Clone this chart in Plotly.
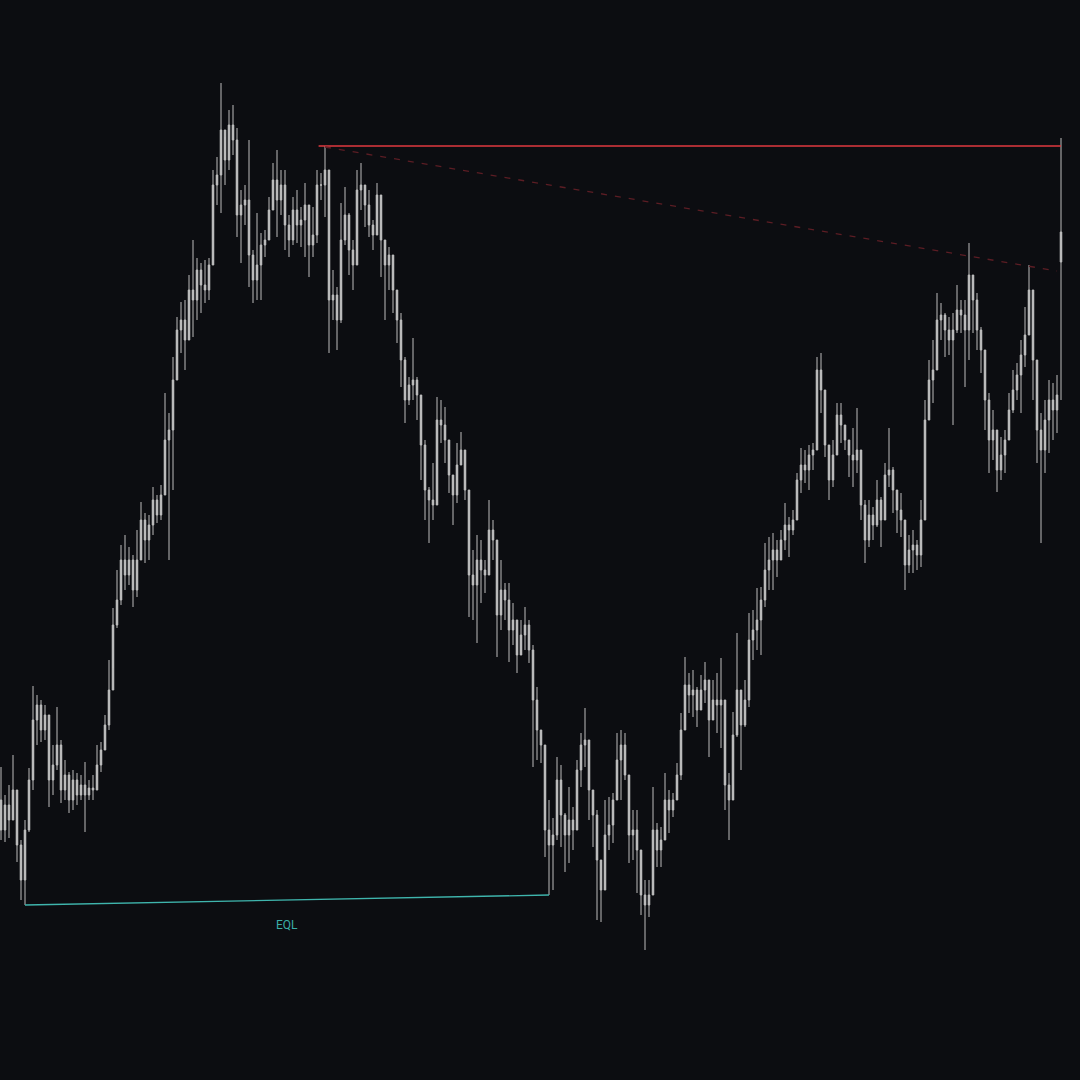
import plotly.graph_objects as go

# Price readings (chart level units; larger value = lower on chart, axis is reversed)
first_open = 800
close = [830, 805, 820, 790, 845, 880, 830, 780, 720, 705, 730, 715, 780, 765, 745, 790, 775, 800, 780, 795,
         785, 795, 788, 790, 765, 750, 725, 690, 625, 600, 560, 575, 560, 590, 560, 520, 540, 525, 500, 515,
         495, 440, 430, 380, 330, 320, 340, 290, 300, 270, 285, 290, 265, 185, 175, 130, 160, 125, 140, 215,
         205, 200, 255, 280, 265, 245, 240, 210, 180, 200, 185, 225, 240, 210, 225, 220, 205, 245, 235, 185,
         185, 170, 300, 295, 320, 240, 215, 250, 265, 190, 185, 205, 225, 235, 195, 240, 265, 255, 290, 320,
         360, 400, 385, 380, 395, 445, 490, 500, 505, 420, 425, 440, 475, 495, 465, 450, 490, 575, 585, 560,
         570, 575, 530, 540, 615, 590, 600, 630, 620, 655, 635, 625, 650, 700, 730, 745, 830, 845, 835, 780,
         815, 835, 820, 830, 770, 745, 740, 790, 815, 860, 890, 835, 825, 800, 760, 745, 775, 835, 830, 850,
         895, 905, 895, 830, 850, 840, 800, 810, 800, 775, 730, 685, 695, 690, 710, 690, 680, 720, 700, 705,
         700, 785, 800, 735, 690, 725, 700, 640, 630, 620, 600, 570, 560, 550, 560, 540, 525, 530, 520, 480,
         465, 470, 455, 450, 370, 390, 445, 480, 455, 415, 425, 440, 455, 460, 450, 505, 540, 515, 525, 500,
         520, 475, 470, 490, 510, 520, 565, 550, 545, 555, 520, 420, 380, 370, 320, 315, 330, 340, 330, 310,
         315, 330, 275, 300, 330, 350, 400, 440, 430, 470, 455, 440, 410, 390, 375, 355, 335, 290, 360, 430,
         450, 420, 400, 410, 395, 232]
high = [767, 795, 785, 755, 800, 840, 820, 768, 686, 695, 700, 705, 720, 745, 707, 740, 760, 772, 770, 773,
        775, 762, 780, 775, 745, 742, 715, 660, 608, 570, 545, 535, 547, 555, 530, 502, 513, 515, 487, 495,
        485, 393, 413, 357, 317, 302, 300, 275, 240, 258, 263, 260, 258, 170, 157, 83, 137, 110, 105, 128,
        190, 185, 140, 250, 213, 233, 230, 197, 163, 150, 170, 170, 215, 197, 190, 207, 183, 205, 207, 170,
        173, 146, 170, 270, 287, 203, 187, 213, 240, 170, 163, 185, 190, 220, 183, 195, 240, 247, 255, 290,
        313, 357, 377, 338, 377, 395, 440, 487, 463, 397, 400, 407, 440, 475, 443, 432, 450, 490, 550, 535,
        540, 560, 500, 520, 540, 560, 583, 583, 603, 620, 620, 607, 620, 645, 687, 730, 745, 800, 818, 757,
        765, 813, 787, 807, 760, 733, 708, 740, 790, 810, 860, 800, 797, 793, 733, 730, 733, 775, 810, 810,
        850, 880, 880, 787, 823, 827, 773, 790, 793, 763, 713, 657, 673, 670, 687, 675, 662, 680, 680, 673,
        658, 700, 773, 712, 633, 690, 680, 613, 610, 588, 587, 543, 537, 533, 540, 530, 503, 517, 510, 473,
        448, 450, 445, 443, 357, 353, 390, 445, 440, 403, 403, 425, 440, 428, 408, 450, 500, 500, 507, 480,
        497, 463, 428, 467, 490, 493, 520, 535, 530, 540, 500, 400, 360, 340, 293, 303, 313, 317, 313, 285,
        300, 300, 243, 275, 293, 327, 350, 393, 410, 430, 437, 430, 393, 370, 363, 340, 307, 265, 290, 360,
        413, 400, 380, 383, 375, 138]
low = [840, 842, 838, 818, 862, 900, 905, 832, 790, 745, 742, 740, 807, 795, 770, 803, 800, 813, 810, 805,
       800, 832, 800, 800, 790, 772, 750, 730, 668, 628, 605, 590, 585, 607, 597, 560, 563, 560, 535, 523,
       520, 490, 560, 490, 380, 353, 370, 340, 337, 320, 313, 303, 300, 265, 205, 213, 185, 170, 155, 237,
       263, 225, 287, 303, 300, 300, 257, 240, 207, 237, 215, 250, 257, 245, 243, 247, 257, 277, 257, 243,
       200, 217, 353, 320, 350, 323, 245, 275, 290, 265, 210, 227, 237, 250, 235, 277, 320, 290, 313, 343,
       387, 423, 405, 400, 420, 480, 520, 543, 520, 505, 443, 463, 493, 525, 503, 465, 500, 617, 620, 643,
       603, 593, 575, 560, 657, 630, 620, 662, 645, 673, 655, 650, 663, 767, 760, 763, 857, 895, 890, 840,
       847, 872, 863, 850, 830, 787, 767, 820, 847, 920, 922, 890, 850, 843, 800, 800, 780, 863, 860, 893,
       915, 950, 917, 890, 867, 867, 840, 833, 817, 800, 780, 730, 713, 717, 727, 710, 703, 757, 720, 733,
       748, 810, 840, 800, 737, 770, 727, 707, 660, 650, 655, 607, 590, 590, 577, 560, 550, 557, 535, 520,
       493, 483, 490, 470, 450, 413, 457, 500, 487, 455, 443, 450, 477, 487, 473, 520, 563, 547, 540, 527,
       547, 520, 487, 513, 533, 537, 590, 573, 573, 570, 567, 520, 420, 403, 370, 340, 357, 355, 425, 333,
       333, 387, 360, 333, 350, 373, 430, 473, 460, 492, 480, 473, 440, 413, 400, 413, 367, 335, 400, 463,
       543, 473, 453, 440, 433, 400]
gap_opens = {265: 262}  # last candle opens away from prior close

# Annotated structure levels
swing_high_idx = 81          # level that is later swept
trend_x = [81, 264]          # dashed trend line endpoints
trend_y = [147, 271]
eql_idx = [6, 137]           # equal lows

n = len(close)
x = list(range(n))
opens = [first_open] + close[:-1]
for k, v in gap_opens.items():
    opens[k] = v

bg = "#0c0d11"
candle_col = "#bdbdbd"
fig = go.Figure()
fig.add_trace(go.Candlestick(
    x=x, open=opens, high=high, low=low, close=close,
    increasing=dict(line=dict(color=candle_col, width=1), fillcolor=candle_col),
    decreasing=dict(line=dict(color=candle_col, width=1), fillcolor=candle_col),
    whiskerwidth=0, showlegend=False, hoverinfo="skip",
))

# Swept high level (red)
lvl = high[swing_high_idx]
fig.add_trace(go.Scatter(x=[swing_high_idx - 1.6, n - 1], y=[lvl, lvl], mode="lines",
                         line=dict(color="#e0383f", width=1.3), showlegend=False, hoverinfo="skip"))
# Dashed trend line (dark red)
fig.add_trace(go.Scatter(x=trend_x, y=trend_y, mode="lines",
                         line=dict(color="#5c1d24", width=1.3, dash="6px,8px"),
                         showlegend=False, hoverinfo="skip"))
# EQL line (teal)
eql_y = [low[i] for i in eql_idx]
fig.add_trace(go.Scatter(x=eql_idx, y=eql_y, mode="lines",
                         line=dict(color="#3fb5ad", width=1.3), showlegend=False, hoverinfo="skip"))
fig.add_annotation(x=sum(eql_idx) / 2, y=sum(eql_y) / 2, text="EQL", showarrow=False,
                   yshift=-25, font=dict(family="Roboto, sans-serif", size=12, color="#3aaea7"))

fig.update_layout(
    width=1080, height=1080,
    margin=dict(l=0, r=0, t=0, b=0),
    paper_bgcolor=bg, plot_bgcolor=bg,
    boxgap=0.45,
    xaxis=dict(visible=False, range=[-0.25, 269.75], rangeslider=dict(visible=False), fixedrange=True),
    yaxis=dict(visible=False, range=[1080, 0], fixedrange=True),
)
fig.write_html("out.html", config={"displayModeBar": False})

# remove the browser's default page margin so the figure fills the window
with open("out.html", encoding="utf-8") as f:
    page = f.read()
page = page.replace("<head>", "<head><style>html,body{margin:0;padding:0;overflow:hidden;background:%s}</style>" % bg, 1)
with open("out.html", "w", encoding="utf-8") as f:
    f.write(page)
